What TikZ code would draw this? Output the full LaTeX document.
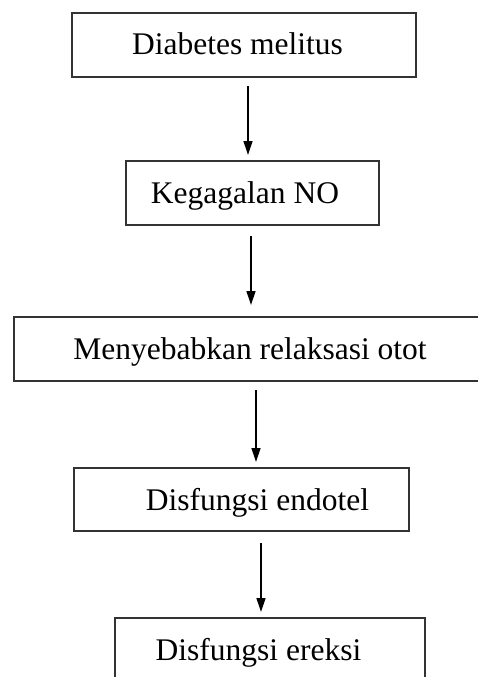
\documentclass[tikz,border=0pt]{standalone}
\usepackage{fontspec}
\setmainfont{Liberation Serif}
\usetikzlibrary{arrows.meta}
\begin{document}
\begin{tikzpicture}[x=1pt,y=-1pt,
  boxline/.style={line width=1.3pt,draw=black!80},
  lbl/.style={font=\fontsize{31.5pt}{36pt}\selectfont,inner sep=0pt,anchor=base},
  arr/.style={line width=1.3pt,-{Triangle[length=14pt,width=9pt]}}]
\useasboundingbox (0,0) rectangle (478,677);
% boxes
\draw[boxline] (72,13) rectangle (416,77);
\draw[boxline] (126,161) rectangle (379,225);
\draw[boxline] (14,317) rectangle (500,381);
\draw[boxline] (74,468) rectangle (409,531);
\draw[boxline] (115,618) rectangle (425,700);
% texts
\node[lbl] (t1) at (237.5,55) {Diabetes melitus};
\node[lbl] (t2) at (245,203) {Kegagalan NO};
\node[lbl] (t3) at (250,359) {Menyebabkan relaksasi otot};
\node[lbl] (t4) at (257.5,510) {Disfungsi endotel};
\node[lbl] (t5) at (258.5,660) {Disfungsi ereksi};
% arrow ends
\coordinate (a1s) at (248,86);  \coordinate (a1e) at (248,155);
\coordinate (a2s) at (251,236); \coordinate (a2e) at (251,305);
\coordinate (a3s) at (256,390); \coordinate (a3e) at (256,462);
\coordinate (a4s) at (261,543); \coordinate (a4e) at (261,612);
\draw[arr] (a1s) -- (a1e);
\draw[arr] (a2s) -- (a2e);
\draw[arr] (a3s) -- (a3e);
\draw[arr] (a4s) -- (a4e);
\end{tikzpicture}
\end{document}
